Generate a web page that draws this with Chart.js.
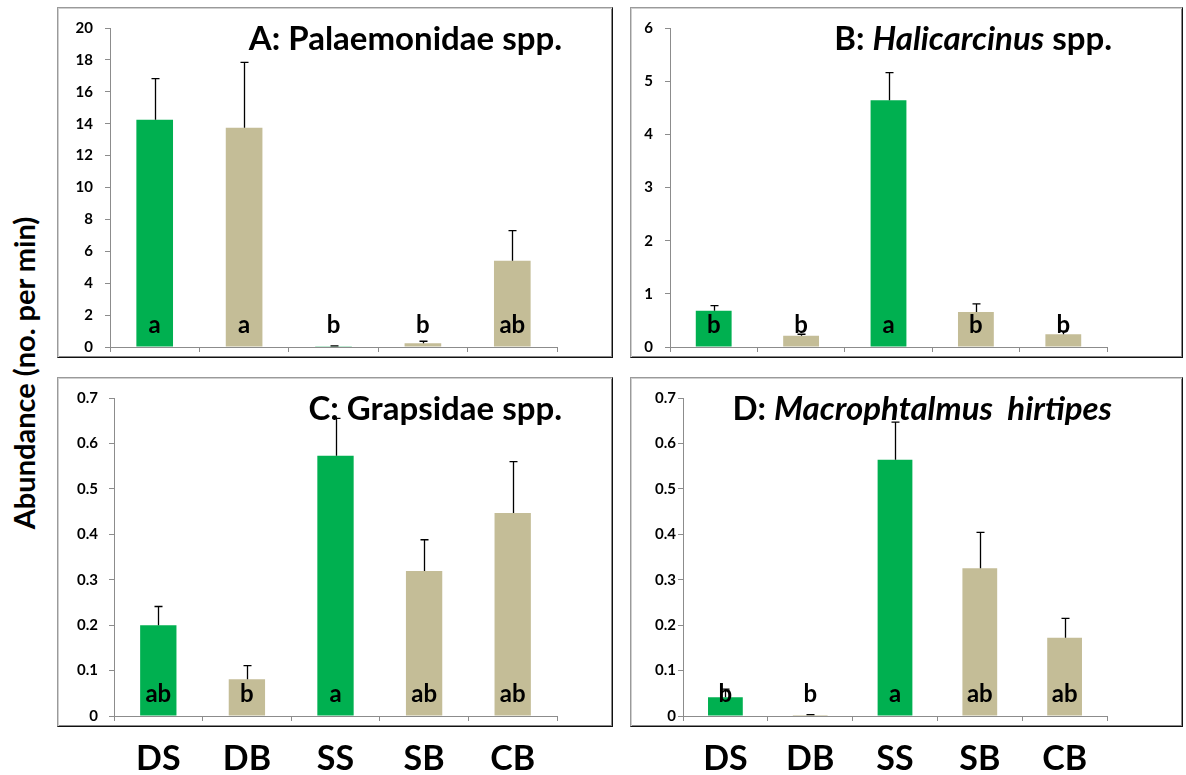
<!DOCTYPE html>
<html>
<head>
<meta charset="utf-8">
<script src="https://cdn.jsdelivr.net/npm/chart.js@4.4.1/dist/chart.umd.min.js"></script>
<style>
  html, body { margin: 0; padding: 0; background: #fff; }
  body { width: 1186px; height: 775px; position: relative; overflow: hidden; font-family: Lato, sans-serif; }
  .frame { position: absolute; box-sizing: border-box; border: 1px solid #9a9a9a; border-right-color: #111; border-bottom-color: #111; box-shadow: inset 1px 1px 0 #d0d0d0, inset -1px -1px 0 #8a8a8a; }
  canvas { position: absolute; }
  #ytitle { position: absolute; left: 23px; top: 373px; transform: translate(-50%, -50%) rotate(-90deg); white-space: nowrap; font: bold 29px Lato, sans-serif; color: #000; }
</style>
</head>
<body>
<div id="ytitle">Abundance (no. per min)</div>
<div class="frame" style="left:57px;top:7px;width:556px;height:351px"></div>
<div class="frame" style="left:630px;top:7px;width:553px;height:351px"></div>
<div class="frame" style="left:57px;top:377px;width:556px;height:350px"></div>
<div class="frame" style="left:630px;top:377px;width:553px;height:350px"></div>
<canvas id="cA" width="556" height="351" style="left:57px;top:7px"></canvas>
<canvas id="cB" width="553" height="351" style="left:630px;top:7px"></canvas>
<canvas id="cC" width="556" height="398" style="left:57px;top:377px"></canvas>
<canvas id="cD" width="553" height="398" style="left:630px;top:377px"></canvas>
<script>
// ---- data ----
const categories = ['DS', 'DB', 'SS', 'SB', 'CB'];
const isSaltmarsh = [true, false, true, false, false];

const palaemonidaeMean = [14.25, 13.75, 0.05, 0.23, 5.40];
const palaemonidaeSE   = [2.57, 4.10, 0.02, 0.13, 1.89];
const palaemonidaeLetters = ['a', 'a', 'b', 'b', 'ab'];

const halicarcinusMean = [0.68, 0.21, 4.64, 0.66, 0.24];
const halicarcinusSE   = [0.10, 0.03, 0.52, 0.15, 0.06];
const halicarcinusLetters = ['b', 'b', 'a', 'b', 'b'];

const grapsidaeMean = [0.200, 0.081, 0.573, 0.319, 0.447];
const grapsidaeSE   = [0.041, 0.030, 0.082, 0.069, 0.113];
const grapsidaeLetters = ['ab', 'b', 'a', 'ab', 'ab'];

const macrophtalmusMean = [0.041, 0.002, 0.564, 0.325, 0.172];
const macrophtalmusSE   = [0.018, 0.001, 0.083, 0.079, 0.043];
const macrophtalmusLetters = ['b', 'b', 'a', 'ab', 'ab'];

const titleA = [['A: ', false], ['Palaemonidae spp.', false]];
const titleB = [['B: ', false], ['Halicarcinus', true], [' spp.', false]];
const titleC = [['C: ', false], ['Grapsidae spp.', false]];
const titleD = [['D: ', false], ['Macrophtalmus  hirtipes', true]];

const GREEN = '#00B050';
const TAN = '#C4BD97';
const AXIS = '#8c8c8c';
const FONT = 'Lato, "Open Sans", sans-serif';

const extrasPlugin = {
  id: 'extras',
  afterDatasetsDraw(chart, args, opts) {
    const ctx = chart.ctx;
    const ys = chart.scales.y;
    const meta = chart.getDatasetMeta(0);
    ctx.save();
    // error bars
    ctx.strokeStyle = '#000';
    ctx.lineWidth = 1.3;
    opts.means.forEach((m, i) => {
      const x = Math.round(meta.data[i].x) + 0.5;
      const yb = ys.getPixelForValue(m);
      const yt = ys.getPixelForValue(m + opts.errs[i]);
      ctx.beginPath();
      ctx.moveTo(x, yb);
      ctx.lineTo(x, yt);
      ctx.moveTo(x - 4, yt);
      ctx.lineTo(x + 4, yt);
      ctx.stroke();
    });
    // letters
    ctx.fillStyle = '#000';
    ctx.font = 'bold 24px ' + FONT;
    ctx.textAlign = 'center';
    ctx.textBaseline = 'alphabetic';
    const y0 = ys.getPixelForValue(0);
    opts.letters.forEach((l, i) => {
      ctx.fillText(l, meta.data[i].x, y0 - 14);
    });
    // title
    const parts = opts.title;
    let total = 0;
    const widths = parts.map(([t, it]) => {
      ctx.font = (it ? 'italic ' : '') + 'bold 33px ' + FONT;
      const w = ctx.measureText(t).width;
      total += w;
      return w;
    });
    let x = chart.chartArea.right + 5 - total;
    ctx.textAlign = 'left';
    parts.forEach(([t, it], i) => {
      ctx.font = (it ? 'italic ' : '') + 'bold 33px ' + FONT;
      ctx.fillText(t, x, chart.chartArea.top + 22);
      x += widths[i];
    });
    ctx.restore();
  }
};

function makeChart(id, means, errs, letters, title, yMax, yStep, g) {
  return new Chart(document.getElementById(id), {
    type: 'bar',
    data: {
      labels: categories,
      datasets: [{
        data: means,
        backgroundColor: isSaltmarsh.map(s => s ? GREEN : TAN),
        borderWidth: 0,
        barPercentage: 0.41,
        categoryPercentage: 1.0
      }]
    },
    options: {
      responsive: false,
      animation: false,
      events: [],
      layout: { padding: { left: 0, right: g.right, top: g.top, bottom: 0 } },
      plugins: {
        legend: { display: false },
        tooltip: { enabled: false },
        title: { display: false },
        extras: { means, errs, letters, title }
      },
      scales: {
        x: {
          grid: { offset: true, drawOnChartArea: false, drawTicks: true, tickLength: 5, color: AXIS, lineWidth: 1 },
          border: { color: AXIS, width: 1 },
          ticks: { display: g.showX, color: '#000', padding: 18, font: { family: FONT, weight: 'bold', size: 34 } },
          afterFit: s => { s.height = g.xh; s.paddingLeft = 0; s.paddingRight = 0; }
        },
        y: {
          min: 0, max: yMax,
          grid: { drawOnChartArea: false, drawTicks: true, tickLength: 5, color: AXIS, lineWidth: 1 },
          border: { color: AXIS, width: 1 },
          ticks: { stepSize: yStep, color: '#000', padding: g.pad, font: { family: FONT, weight: 'bold', size: 15 },
                   callback: v => String(Math.round(v * 10) / 10) },
          afterFit: s => { s.width = g.yw; s.paddingTop = 0; s.paddingBottom = 0; }
        }
      }
    },
    plugins: [extrasPlugin]
  });
}

makeChart('cA', palaemonidaeMean, palaemonidaeSE, palaemonidaeLetters, titleA, 20, 2,
  { right: 56, top: 21, yw: 53, xh: 11, showX: false, pad: 12 });
makeChart('cB', halicarcinusMean, halicarcinusSE, halicarcinusLetters, titleB, 6, 1,
  { right: 76, top: 21, yw: 40, xh: 11, showX: false, pad: 12 });
makeChart('cC', grapsidaeMean, grapsidaeSE, grapsidaeLetters, titleC, 0.7, 0.1,
  { right: 56, top: 21, yw: 57, xh: 59, showX: true, pad: 11 });
makeChart('cD', macrophtalmusMean, macrophtalmusSE, macrophtalmusLetters, titleD, 0.7, 0.1,
  { right: 76, top: 21, yw: 53, xh: 59, showX: true, pad: 2 });
</script>
</body>
</html>
